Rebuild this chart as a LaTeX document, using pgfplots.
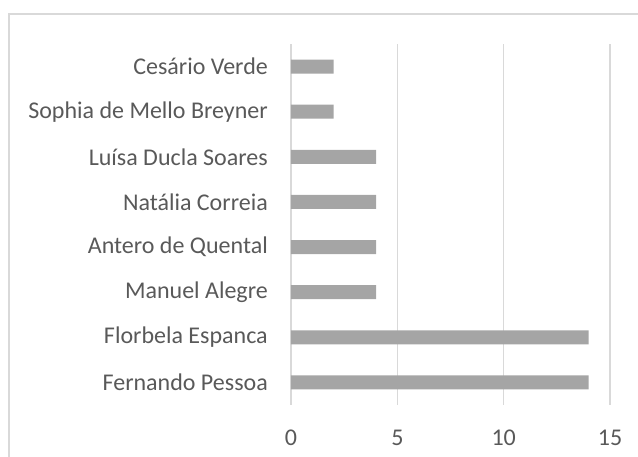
\documentclass[border=0pt]{standalone}
\usepackage{fontspec}
\setmainfont{Carlito}
\usepackage{pgfplots}
\pgfplotsset{compat=1.18}
\definecolor{bargray}{HTML}{A5A5A5}
\definecolor{gridgray}{HTML}{D9D9D9}
\definecolor{txtgray}{HTML}{595959}
\begin{document}
\begin{tikzpicture}[x=1pt,y=1pt]
\path[use as bounding box] (0,0) rectangle (638,457);
\draw[gridgray, line width=1.5pt] (9,0) -- (9,443) -- (638,443);
\begin{axis}[
  at={(291pt,52pt)}, anchor=south west,
  scale only axis,
  width=319pt, height=361pt,
  xbar, bar width=14pt,
  xmin=0, xmax=15, ymin=-0.5, ymax=7.5,
  xtick={0,5,10,15},
  ytick={0,...,7},
  yticklabels={Fernando Pessoa, Florbela Espanca, Manuel Alegre, Antero de Quental, Natália Correia, Luísa Ducla Soares, Sophia de Mello Breyner, Cesário Verde},
  axis line style={draw=none},
  major tick length=0pt,
  xmajorgrids,
  grid style={gridgray, line width=1.3pt},
  ticklabel style={font=\fontsize{24}{28}\selectfont, text=txtgray},
  /pgf/number format/assume math mode=true,
  yticklabel style={inner sep=0pt, anchor=east, xshift=-23pt},
  xticklabel style={inner sep=0pt, anchor=north, yshift=-25pt},
  clip=false,
]
\addplot[fill=bargray, draw=none] coordinates {
(14,0) (14,1) (4,2) (4,3) (4,4) (4,5) (2,6) (2,7)};
\end{axis}
\end{tikzpicture}
\end{document}
